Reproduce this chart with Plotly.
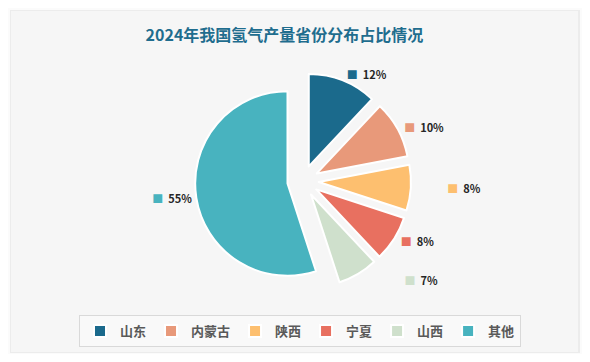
import plotly.graph_objects as go

labels = ["山东", "内蒙古", "陕西", "宁夏", "山西", "其他"]
values = [12, 10, 8, 8, 7, 55]
colors = ["#1b6a8c", "#e8997a", "#fdbf6f", "#e87060", "#cfe0cc", "#48b3bf"]

# styling: extra gap (in non-breaking spaces) before each outside label
label_gap = [0, 1, 13, 1, 17, 0]

texts = ["\u00a0" * g + f"<span style='color:{c}'>■</span>  {v}%"
         for g, c, v in zip(label_gap, colors, values)]

W, H = 574, 346  # page body has an 8px margin

fig = go.Figure()
fig.add_trace(go.Pie(
    labels=labels,
    values=values,
    text=texts,
    texttemplate="%{text}",
    textposition="outside",
    textfont=dict(family="Noto Sans CJK SC, Noto Sans, sans-serif", size=11,
                  color="#262626", weight="bold"),
    marker=dict(colors=colors, line=dict(color="white", width=2)),
    pull=[0.17] * len(values),
    sort=False,
    direction="clockwise",
    rotation=0,
    hoverinfo="label+percent",
    domain=dict(x=[187 / W, 403 / W], y=[1 - 281 / H, 1 - 65 / H]),
    showlegend=True,
))

fig.update_layout(
    width=W, height=H,
    margin=dict(l=0, r=0, t=0, b=0),
    paper_bgcolor="#fbfbfb",
    plot_bgcolor="#fbfbfb",
    shapes=[
        dict(type="rect", xref="paper", yref="paper",
             x0=2 / W, x1=572 / W, y0=1 - 345 / H, y1=1 - 2 / H,
             fillcolor="#ececec", line=dict(width=0), layer="below"),
        dict(type="rect", xref="paper", yref="paper",
             x0=3 / W, x1=570 / W, y0=1 - 344 / H, y1=1 - 3 / H,
             fillcolor="#f6f6f6", line=dict(width=0), layer="below"),
    ],
    title=dict(
        text="<b>2024年我国氢气产量省份分布占比情况</b>",
        x=276.5 / W, xanchor="center",
        y=1 - 27 / H, yanchor="middle",
        font=dict(family="Noto Sans CJK SC, sans-serif", size=16, color="#1f6d8e"),
    ),
    legend=dict(
        orientation="h",
        x=292 / W, xanchor="center",
        y=1 - 323 / H, yanchor="middle",
        bgcolor="rgba(255,255,255,0.35)",
        bordercolor="#d9d9d9", borderwidth=1,
        font=dict(family="Noto Sans CJK SC, sans-serif", size=13, color="#595959",
                  weight="bold"),
        itemwidth=30,
        traceorder="normal",
    ),
)

fig.write_html("out.html")
